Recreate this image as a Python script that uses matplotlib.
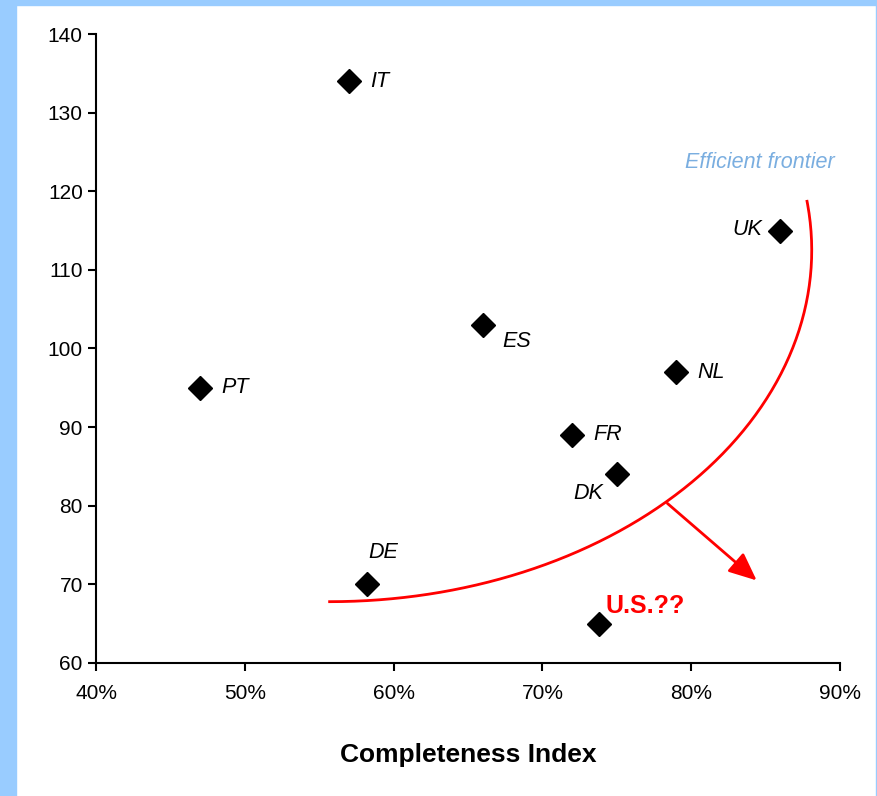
import numpy as np
import matplotlib
matplotlib.use("Agg")
import matplotlib.pyplot as plt
from matplotlib.patches import Rectangle
from matplotlib.ticker import FuncFormatter

plt.rcParams["font.family"] = ["Liberation Sans", "DejaVu Sans"]

countries = ["IT", "PT", "ES", "NL", "UK", "FR", "DK", "DE"]
completeness = [57, 47, 66, 79, 86, 72, 75, 58.2]
cost = [134, 95, 103, 97, 115, 89, 84, 70]
# label offsets in points (dx, dy) and alignment
label_offsets = {
    "IT": (15, 0, "left", "center"),
    "PT": (15, 0, "left", "center"),
    "ES": (14, -12, "left", "center"),
    "NL": (15, 0, "left", "center"),
    "UK": (-13, 1, "right", "center"),
    "FR": (15, 0, "left", "center"),
    "DK": (-10, -14, "right", "center"),
    "DE": (1, 23, "left", "center"),
}

us_x, us_y = 73.8, 65

# frontier arc (ellipse quarter) in data units
arc_cx, arc_cy = 55.7, 112.5
arc_a, arc_b = 32.4, 44.7
arrow_start = (78.4, 80.3)
arrow_end = (84.4, 70.5)

fig = plt.figure(figsize=(8.78, 7.96), dpi=100)
fig.patches.append(Rectangle((0, 0), 16 / 878, 1, transform=fig.transFigure,
                             color="#99ccff", zorder=0))
fig.patches.append(Rectangle((0, 1 - 5 / 796), 1, 5 / 796, transform=fig.transFigure,
                             color="#99ccff", zorder=0))
fig.patches.append(Rectangle((1 - 2 / 878, 0), 2 / 878, 1, transform=fig.transFigure,
                             color="#99ccff", zorder=0))

ax = fig.add_axes([96 / 878, 1 - 663 / 796, 744 / 878, 629 / 796])
ax.set_xlim(40, 90)
ax.set_ylim(60, 140)
ax.set_xticks(np.arange(40, 91, 10))
ax.set_yticks(np.arange(60, 141, 10))
ax.xaxis.set_major_formatter(FuncFormatter(lambda v, p: f"{v:.0f}%"))
for s in ["top", "right"]:
    ax.spines[s].set_visible(False)
for s in ["left", "bottom"]:
    ax.spines[s].set_linewidth(1.5)
ax.tick_params(labelsize=15, width=1.5, length=6, direction="out")
ax.tick_params(axis="x", pad=9)
ax.set_xlabel("Completeness Index", fontsize=19, fontweight="bold", labelpad=29)

ax.plot(completeness, cost, "D", color="black", markersize=12, linestyle="none",
        clip_on=False, zorder=3)
ax.plot([us_x], [us_y], "D", color="black", markersize=12, clip_on=False, zorder=3)

for c, x, y in zip(countries, completeness, cost):
    dx, dy, ha, va = label_offsets[c]
    ax.annotate(c, (x, y), xytext=(dx, dy), textcoords="offset points",
                ha=ha, va=va, fontsize=15.5, fontstyle="italic")

ax.annotate("U.S.??", (us_x, us_y), xytext=(5, 13), textcoords="offset points",
            ha="left", va="center", fontsize=18, fontweight="bold", color="red")

t = np.radians(np.linspace(90, -8, 200))
ax.plot(arc_cx + arc_a * np.cos(t), arc_cy - arc_b * np.sin(t),
        color="red", lw=2, clip_on=False)

ax.annotate("", xy=arrow_end, xytext=arrow_start,
            arrowprops=dict(arrowstyle="-|>,head_length=1.7,head_width=0.75",
                            color="red", lw=2, shrinkA=0, shrinkB=0))

ax.text(89.66, 123.7, "Efficient frontier", fontsize=15.5, fontstyle="italic",
        color="#7aaee0", ha="right", va="center")

fig.savefig("out.png", dpi=100)
